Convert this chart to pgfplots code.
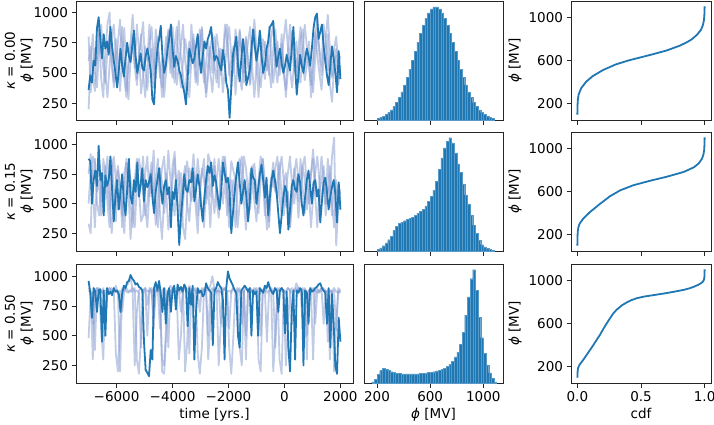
\documentclass[border=0pt]{standalone}
\usepackage{pgfplots}
\pgfplotsset{compat=1.18}
\usepackage{pgfplotstable}
\usepackage{fontspec}
\setmainfont{DejaVu Sans}
\definecolor{c1}{HTML}{1F77B4}
\definecolor{lt}{RGB}{140,160,210}
\newcommand\fs{\fontsize{13.5}{16}\selectfont}
\pgfplotsset{
  base/.style={scale only axis, axis line style={line width=0.8pt, black!85}, tick align=outside, tick pos=left,
    major tick length=4.5pt, tick style={black!85, line width=0.8pt},
    tick label style={font=\fs}, label style={font=\fs},
    /pgf/number format/assume math mode=true, /pgf/number format/1000 sep={}},
  ts/.style={base, width=277pt, height=119pt, xmin=-7450, xmax=2450, xtick={-6000,-4000,-2000,0,2000},
    ytick={250,500,750,1000}, ylabel style={align=center}, ylabel shift=-7pt},
  hs/.style={base, width=139pt, height=119pt, xmin=102, xmax=1148, ymin=0, ymax=1050, ytick=\empty, xtick={200,600,1000}},
  cs/.style={base, width=140pt, height=119pt, xmin=-0.05, xmax=1.05, ymin=50, ymax=1150, xtick={0,0.5,1},
    ytick={200,600,1000}, ylabel={\textit{ϕ} [MV]}},
  lite/.style={lt, opacity=0.55, line width=1.8pt, line join=round},
  dark/.style={c1, line width=1.8pt, line join=round},
  hbar/.style={ybar interval, fill=c1, draw=c1!75!white, line width=0.3pt},
}
\begin{document}
\begin{tikzpicture}
\path[use as bounding box] (0pt,0pt) rectangle (714pt,-424pt);
% ---------------- Row 1 ----------------
\begin{axis}[ts, at={(76pt,-1pt)}, anchor=north west, ymin=111, ymax=1094, xticklabels=\empty,
  ylabel={\textit{κ} = 0.00\\\textit{ϕ} [MV]}]
\addplot[lite] table[row sep=\\, header=false, x expr=-7000+75*\coordindex, y index=0] {
800\\340\\520\\700\\600\\850\\450\\300\\680\\900\\
1000\\560\\420\\780\\600\\350\\650\\870\\500\\280\\
620\\760\\540\\900\\680\\330\\480\\720\\600\\900\\
520\\380\\700\\800\\460\\620\\300\\520\\860\\740\\
580\\420\\690\\930\\620\\480\\300\\560\\760\\640\\
820\\520\\400\\700\\880\\600\\340\\580\\720\\500\\
800\\640\\380\\700\\560\\820\\900\\480\\600\\720\\
320\\550\\840\\660\\500\\780\\620\\400\\700\\850\\
560\\300\\620\\780\\700\\520\\880\\640\\420\\600\\
760\\540\\820\\480\\360\\680\\900\\720\\500\\620\\
420\\780\\860\\540\\700\\620\\300\\520\\800\\960\\
640\\480\\700\\560\\820\\400\\260\\560\\700\\600\\
480\\
};
\addplot[lite] table[row sep=\\, header=false, x expr=-7000+75*\coordindex, y index=0] {
200\\600\\820\\500\\380\\700\\900\\650\\480\\300\\
560\\780\\900\\640\\420\\700\\880\\520\\350\\600\\
760\\980\\700\\450\\600\\820\\500\\300\\560\\740\\
880\\620\\450\\700\\540\\380\\620\\800\\700\\500\\
880\\650\\400\\560\\720\\900\\600\\460\\300\\620\\
780\\540\\700\\860\\620\\420\\580\\760\\500\\340\\
600\\820\\700\\480\\620\\900\\760\\540\\380\\600\\
720\\500\\860\\640\\420\\600\\760\\880\\540\\300\\
560\\700\\820\\600\\450\\680\\540\\380\\700\\860\\
640\\480\\600\\780\\940\\700\\520\\380\\600\\760\\
540\\420\\680\\900\\720\\560\\400\\620\\840\\640\\
500\\360\\600\\780\\980\\700\\460\\520\\640\\400\\
560\\
};
\addplot[lite] table[row sep=\\, header=false, x expr=-7000+75*\coordindex, y index=0] {
600\\720\\480\\350\\620\\880\\760\\540\\420\\700\\
820\\640\\380\\520\\760\\940\\600\\460\\300\\560\\
680\\820\\560\\400\\640\\780\\920\\540\\360\\600\\
700\\480\\860\\700\\540\\300\\480\\680\\840\\600\\
460\\720\\880\\560\\380\\600\\780\\660\\500\\900\\
640\\420\\560\\740\\860\\520\\300\\480\\700\\820\\
560\\420\\700\\600\\340\\540\\760\\880\\640\\500\\
860\\700\\480\\360\\620\\800\\560\\420\\720\\940\\
700\\500\\380\\560\\760\\620\\480\\800\\900\\560\\
420\\600\\740\\560\\300\\520\\700\\840\\620\\480\\
700\\880\\600\\440\\560\\760\\500\\340\\620\\820\\
700\\560\\900\\760\\520\\640\\480\\700\\800\\560\\
640\\
};
\addplot[dark] table[row sep=\\, header=false, x expr=-7000+60*\coordindex, y index=0] {
360\\480\\420\\600\\560\\870\\960\\780\\620\\820\\
700\\760\\650\\880\\720\\600\\500\\380\\520\\700\\
560\\470\\620\\750\\640\\590\\720\\850\\640\\500\\
580\\660\\540\\520\\640\\700\\620\\520\\280\\240\\
520\\700\\780\\890\\640\\500\\560\\690\\780\\900\\
700\\550\\640\\600\\520\\480\\400\\340\\240\\450\\
700\\640\\580\\620\\720\\820\\620\\500\\640\\760\\
700\\780\\820\\880\\720\\600\\640\\620\\560\\520\\
690\\600\\420\\360\\130\\380\\650\\720\\800\\560\\
430\\620\\780\\640\\400\\460\\520\\700\\860\\720\\
600\\700\\850\\640\\500\\560\\700\\760\\880\\900\\
930\\700\\550\\640\\700\\580\\500\\560\\650\\580\\
520\\700\\880\\560\\320\\480\\650\\560\\500\\620\\
700\\640\\560\\700\\870\\960\\990\\780\\840\\900\\
720\\600\\480\\400\\560\\720\\620\\500\\340\\680\\
450\\
};
\end{axis}
\begin{axis}[hs, at={(364pt,-1pt)}, anchor=north west, xticklabels=\empty]
\addplot[hbar] table[row sep=\\, header=false, x expr=200+20*\coordindex, y index=0] {
16\\24\\34\\48\\66\\89\\118\\154\\198\\249\\
309\\375\\448\\526\\607\\687\\764\\835\\897\\946\\
980\\998\\998\\980\\946\\897\\835\\764\\687\\607\\
526\\448\\375\\309\\249\\198\\154\\118\\89\\66\\
48\\34\\24\\16\\16\\
};
\end{axis}
\begin{axis}[cs, at={(571pt,-1pt)}, anchor=north west, xticklabels=\empty]
\addplot[dark] coordinates {(0,100) (0.001,180) (0.004,240) (0.01,285) (0.03,345) (0.07,405) (0.12,455) (0.2,511) (0.3,563) (0.4,600) (0.5,630) (0.6,660) (0.7,692) (0.8,735) (0.86,768) (0.9,797) (0.94,838) (0.97,882) (0.985,922) (0.993,962) (0.997,1005) (0.999,1050) (1,1100)};
\end{axis}
% ---------------- Row 2 ----------------
\begin{axis}[ts, at={(76pt,-132pt)}, anchor=north west, ymin=99, ymax=1107, xticklabels=\empty,
  ylabel={\textit{κ} = 0.15\\\textit{ϕ} [MV]}]
\addplot[lite] table[row sep=\\, header=false, x expr=-7000+75*\coordindex, y index=0] {
330\\250\\900\\850\\600\\700\\400\\880\\750\\500\\
300\\650\\900\\700\\450\\620\\300\\760\\850\\600\\
200\\500\\700\\880\\620\\350\\400\\750\\900\\560\\
700\\950\\520\\300\\640\\800\\900\\600\\280\\450\\
700\\880\\520\\650\\760\\300\\200\\550\\800\\700\\
920\\640\\400\\600\\750\\880\\500\\650\\300\\700\\
820\\600\\480\\760\\900\\850\\620\\300\\450\\700\\
600\\800\\880\\700\\520\\280\\600\\760\\820\\650\\
500\\700\\900\\760\\400\\600\\350\\700\\850\\620\\
550\\780\\900\\700\\480\\600\\300\\520\\750\\880\\
700\\600\\820\\900\\640\\500\\760\\960\\700\\600\\
600\\700\\820\\500\\650\\560\\900\\1060\\145\\500\\
620\\
};
\addplot[lite] table[row sep=\\, header=false, x expr=-7000+75*\coordindex, y index=0] {
750\\920\\600\\880\\500\\400\\700\\550\\820\\650\\
450\\880\\600\\350\\780\\650\\500\\250\\600\\850\\
700\\500\\300\\650\\880\\750\\600\\400\\500\\720\\
850\\600\\320\\550\\800\\680\\420\\600\\950\\700\\
560\\400\\680\\780\\300\\500\\720\\860\\640\\520\\
650\\480\\250\\600\\800\\700\\550\\920\\850\\600\\
420\\700\\880\\650\\500\\720\\400\\600\\860\\780\\
700\\300\\500\\650\\900\\800\\600\\450\\700\\520\\
350\\620\\780\\880\\700\\550\\300\\650\\780\\600\\
700\\850\\550\\400\\620\\760\\900\\640\\500\\700\\
380\\600\\820\\700\\450\\600\\750\\880\\560\\300\\
650\\900\\700\\500\\880\\620\\400\\700\\560\\650\\
500\\
};
\addplot[lite] table[row sep=\\, header=false, x expr=-7000+75*\coordindex, y index=0] {
500\\780\\620\\300\\700\\880\\600\\420\\760\\900\\
560\\250\\480\\700\\820\\640\\400\\560\\880\\700\\
500\\300\\620\\800\\560\\700\\900\\460\\300\\600\\
780\\520\\680\\880\\420\\200\\560\\760\\600\\480\\
820\\940\\600\\400\\560\\700\\820\\500\\350\\640\\
760\\600\\880\\700\\450\\300\\620\\800\\560\\720\\
880\\520\\380\\640\\760\\900\\600\\420\\700\\540\\
300\\620\\780\\900\\680\\500\\350\\600\\760\\840\\
600\\420\\700\\880\\520\\280\\560\\720\\640\\800\\
900\\560\\400\\680\\760\\540\\300\\600\\800\\700\\
520\\880\\640\\420\\720\\600\\300\\560\\760\\900\\
680\\500\\720\\400\\600\\820\\500\\300\\700\\560\\
600\\
};
\addplot[dark] table[row sep=\\, header=false, x expr=-7000+60*\coordindex, y index=0] {
880\\860\\500\\700\\780\\650\\990\\700\\760\\400\\
740\\650\\700\\900\\620\\350\\560\\700\\450\\600\\
750\\520\\400\\620\\880\\560\\500\\700\\600\\850\\
560\\660\\800\\520\\700\\640\\680\\750\\560\\420\\
600\\700\\800\\620\\500\\650\\700\\580\\640\\300\\
600\\540\\700\\460\\150\\400\\550\\750\\620\\600\\
700\\680\\800\\520\\620\\750\\650\\480\\350\\560\\
700\\820\\760\\850\\650\\740\\680\\550\\450\\600\\
850\\760\\680\\720\\600\\250\\420\\600\\740\\850\\
680\\500\\600\\700\\560\\350\\520\\800\\720\\700\\
500\\620\\750\\830\\700\\550\\720\\400\\560\\700\\
780\\700\\600\\420\\250\\400\\550\\650\\600\\280\\
450\\650\\700\\620\\600\\750\\680\\500\\400\\560\\
700\\780\\640\\500\\680\\700\\560\\620\\340\\520\\
680\\720\\600\\450\\560\\640\\700\\580\\340\\680\\
450\\
};
\end{axis}
\begin{axis}[hs, at={(364pt,-132pt)}, anchor=north west, xticklabels=\empty]
\addplot[hbar] table[row sep=\\, header=false, x expr=200+20*\coordindex, y index=0] {
12\\27\\47\\71\\100\\130\\180\\220\\243\\255\\
267\\279\\290\\300\\315\\330\\350\\368\\398\\436\\
480\\534\\614\\718\\822\\911\\970\\1000\\955\\866\\
769\\694\\593\\496\\415\\318\\228\\154\\95\\56\\
36\\21\\12\\6\\6\\
};
\end{axis}
\begin{axis}[cs, at={(571pt,-132pt)}, anchor=north west, xticklabels=\empty]
\addplot[dark] coordinates {(0,100) (0.001,170) (0.003,230) (0.008,270) (0.018,303) (0.045,348) (0.098,409) (0.177,485) (0.256,556) (0.335,610) (0.44,658) (0.573,700) (0.704,737) (0.836,781) (0.916,824) (0.955,862) (0.98,905) (0.99,940) (0.996,980) (0.999,1040) (1,1100)};
\end{axis}
% ---------------- Row 3 ----------------
\begin{axis}[ts, at={(76pt,-264pt)}, anchor=north west, ymin=103, ymax=1102,
  xticklabels={−6000,−4000,−2000,0,2000}, xlabel={time [yrs.]},
  ylabel={\textit{κ} = 0.50\\\textit{ϕ} [MV]}]
\addplot[lite] table[row sep=\\, header=false, x expr=-7000+75*\coordindex, y index=0] {
480\\850\\870\\380\\900\\880\\860\\900\\600\\880\\
850\\900\\870\\880\\860\\200\\900\\880\\920\\940\\
1000\\870\\900\\300\\180\\500\\880\\900\\760\\900\\
880\\650\\900\\870\\880\\300\\250\\600\\880\\920\\
900\\880\\860\\300\\500\\880\\900\\870\\920\\880\\
700\\880\\350\\180\\400\\880\\900\\880\\920\\1000\\
880\\860\\900\\600\\880\\900\\850\\400\\180\\500\\
880\\900\\870\\860\\880\\500\\880\\900\\860\\880\\
900\\300\\200\\880\\870\\900\\920\\880\\860\\400\\
880\\880\\900\\860\\250\\600\\880\\900\\870\\940\\
900\\880\\600\\900\\860\\880\\870\\300\\880\\900\\
860\\880\\900\\870\\450\\880\\870\\200\\600\\900\\
880\\
};
\addplot[lite] table[row sep=\\, header=false, x expr=-7000+75*\coordindex, y index=0] {
900\\880\\600\\860\\880\\900\\550\\300\\880\\870\\
900\\860\\880\\920\\850\\880\\700\\880\\900\\870\\
880\\860\\250\\700\\880\\900\\870\\880\\500\\880\\
860\\900\\870\\880\\560\\880\\900\\870\\400\\880\\
850\\900\\870\\880\\860\\900\\200\\450\\880\\870\\
900\\860\\880\\700\\900\\870\\880\\300\\600\\880\\
900\\870\\880\\860\\900\\880\\870\\560\\880\\900\\
870\\880\\400\\250\\880\\900\\870\\860\\880\\900\\
880\\870\\500\\880\\900\\860\\880\\870\\200\\500\\
880\\900\\870\\880\\860\\900\\880\\600\\880\\870\\
900\\880\\860\\880\\300\\880\\900\\870\\880\\860\\
880\\900\\600\\880\\870\\880\\860\\880\\550\\880\\
860\\
};
\addplot[lite] table[row sep=\\, header=false, x expr=-7000+75*\coordindex, y index=0] {
880\\860\\300\\880\\900\\870\\880\\860\\640\\880\\
900\\870\\880\\350\\200\\600\\880\\900\\870\\860\\
880\\900\\870\\880\\860\\400\\880\\900\\870\\880\\
900\\560\\880\\870\\900\\200\\180\\500\\880\\870\\
900\\880\\860\\880\\700\\880\\900\\870\\350\\880\\
880\\900\\870\\880\\860\\900\\880\\500\\880\\900\\
870\\880\\250\\600\\880\\900\\870\\880\\860\\900\\
880\\870\\900\\600\\880\\300\\880\\900\\870\\880\\
860\\900\\880\\870\\880\\450\\880\\900\\870\\880\\
900\\300\\180\\880\\870\\900\\880\\860\\880\\900\\
880\\870\\900\\880\\500\\880\\870\\900\\600\\880\\
870\\900\\880\\860\\880\\300\\880\\900\\870\\860\\
880\\
};
\addplot[dark] table[row sep=\\, header=false, x expr=-7000+60*\coordindex, y index=0] {
960\\860\\650\\900\\870\\700\\880\\890\\450\\880\\
500\\900\\850\\870\\840\\900\\870\\880\\850\\700\\
850\\920\\900\\950\\960\\1010\\980\\960\\930\\940\\
910\\900\\880\\450\\210\\190\\160\\380\\300\\900\\
950\\880\\960\\850\\700\\900\\600\\850\\900\\700\\
880\\920\\720\\930\\880\\910\\870\\930\\900\\580\\
900\\760\\920\\300\\700\\900\\860\\880\\830\\850\\
940\\900\\880\\860\\420\\880\\900\\950\\920\\900\\
800\\300\\900\\1040\\980\\950\\920\\880\\860\\500\\
400\\880\\900\\920\\900\\870\\900\\500\\880\\850\\
870\\500\\900\\880\\860\\920\\900\\950\\900\\870\\
850\\900\\880\\700\\880\\900\\880\\520\\870\\400\\
200\\700\\880\\300\\880\\860\\900\\880\\250\\880\\
860\\600\\900\\870\\880\\900\\910\\930\\940\\900\\
880\\860\\600\\900\\400\\850\\600\\240\\180\\650\\
450\\
};
\end{axis}
\begin{axis}[hs, at={(364pt,-264pt)}, anchor=north west, xlabel={\textit{ϕ} [MV]}]
\addplot[hbar] table[row sep=\\, header=false, x expr=160+20*\coordindex, y index=0] {
10\\30\\75\\110\\130\\122\\110\\100\\92\\87\\
83\\81\\80\\80\\80\\80\\80\\81\\83\\85\\
88\\92\\96\\100\\106\\113\\120\\130\\145\\165\\
190\\230\\270\\340\\450\\600\\760\\920\\1000\\820\\
580\\400\\260\\160\\90\\40\\10\\10\\
};
\end{axis}
\begin{axis}[cs, at={(571pt,-264pt)}, anchor=north west, xticklabels={0.0,0.5,1.0}, xlabel={cdf}]
\addplot[dark] coordinates {(0,100) (0.001,135) (0.003,170) (0.006,190) (0.018,221) (0.045,262) (0.07,305) (0.098,353) (0.125,400) (0.15,446) (0.18,500) (0.203,548) (0.23,600) (0.256,648) (0.28,690) (0.309,728) (0.35,768) (0.388,795) (0.42,814) (0.467,834) (0.52,848) (0.573,858) (0.64,870) (0.704,882) (0.77,896) (0.836,911) (0.88,925) (0.916,940) (0.95,958) (0.968,970) (0.985,985) (0.995,1005) (0.998,1030) (1,1100)};
\end{axis}
\end{tikzpicture}
\end{document}
